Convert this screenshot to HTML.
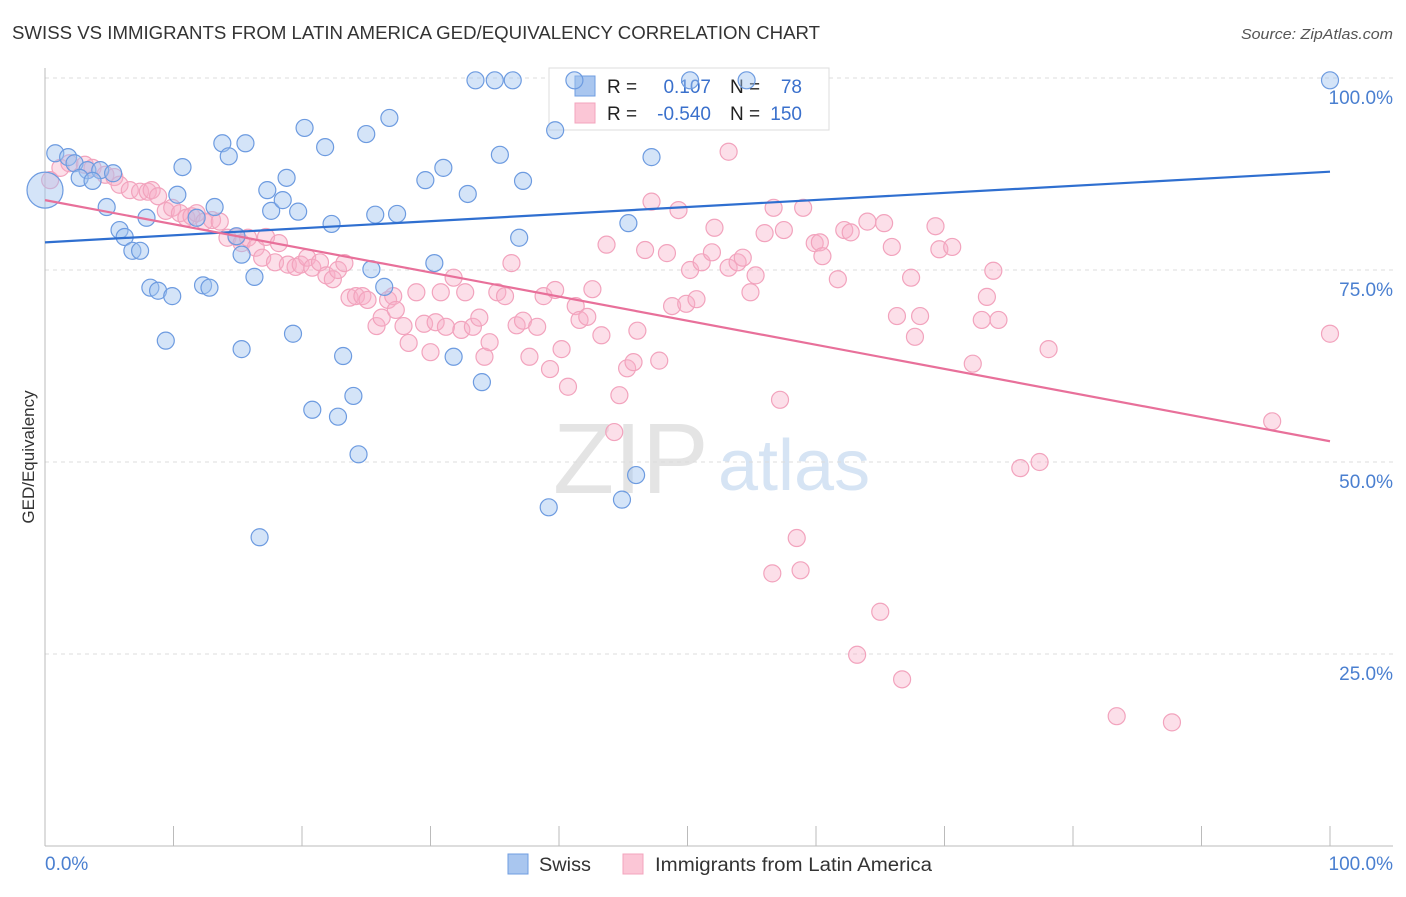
<!DOCTYPE html>
<html><head><meta charset="utf-8"><style>
body{margin:0;background:#fff;font-family:"Liberation Sans",sans-serif}
svg text{font-family:"Liberation Sans",sans-serif}
</style></head><body>
<svg id="chart" width="1406" height="892">
<text x="12" y="39" font-size="18" fill="#333" textLength="808" lengthAdjust="spacingAndGlyphs">SWISS VS IMMIGRANTS FROM LATIN AMERICA GED/EQUIVALENCY CORRELATION CHART</text>
<text x="1393" y="39" font-size="15" fill="#555" font-style="italic" text-anchor="end" textLength="152" lengthAdjust="spacingAndGlyphs">Source: ZipAtlas.com</text>
<text transform="translate(34,457) rotate(-90)" font-size="17" fill="#333" text-anchor="middle">GED/Equivalency</text>
<g>
<text x="553" y="493" font-size="100" fill="#e4e4e4" font-family="Liberation Serif,serif">ZIP</text>
<text x="718" y="490" font-size="72" fill="#d6e4f4">atlas</text>
</g>
<g id="grid"></g><g id="axes"></g>
<g>
<rect x="549" y="68" width="280" height="62" fill="#fff" stroke="#ddd"/>
<rect x="575" y="76" width="20" height="20" fill="#a9c6ef" stroke="#6f9de0"/>
<rect x="575" y="103" width="20" height="20" fill="#fbc6d6" stroke="#f3a4bd"/>
<text x="607" y="93" font-size="19" fill="#222">R =</text><text x="711" y="93" font-size="19" fill="#3a70cc" text-anchor="end">0.107</text>
<text x="730" y="93" font-size="19" fill="#222">N =</text><text x="802" y="93" font-size="19" fill="#3a70cc" text-anchor="end">78</text>
<text x="607" y="120" font-size="19" fill="#222">R =</text><text x="711" y="120" font-size="19" fill="#3a70cc" text-anchor="end">-0.540</text>
<text x="730" y="120" font-size="19" fill="#222">N =</text><text x="802" y="120" font-size="19" fill="#3a70cc" text-anchor="end">150</text>
</g>
<g id="marks"></g><g id="lines"></g>
<g>
<rect x="508" y="854" width="20" height="20" fill="#a9c6ef" stroke="#6f9de0"/>
<text x="539" y="871" font-size="19" fill="#333" textLength="52" lengthAdjust="spacingAndGlyphs">Swiss</text>
<rect x="623" y="854" width="20" height="20" fill="#fbc6d6" stroke="#f3a4bd"/>
<text x="655" y="871" font-size="19" fill="#333" textLength="277" lengthAdjust="spacingAndGlyphs">Immigrants from Latin America</text>
</g>
</svg>
<script>
const yTicks=[25,50,75,100];
const yTickLabels=["25.0%","50.0%","75.0%","100.0%"];
const xTickCount=10;
const swissX=[0.8,1.8,2.3,3.3,4.3,5.3,2.7,3.7,4.8,5.8,6.2,6.8,7.4,7.9,8.2,8.8,9.9,9.4,10.3,10.7,11.8,12.3,12.8,13.2,13.8,14.3,15.3,14.9,15.3,15.6,16.3,16.7,17.3,17.6,18.5,18.8,19.3,19.7,20.2,20.8,21.8,22.3,22.8,23.2,24.0,24.4,25.0,25.7,25.4,26.4,26.8,27.4,30.3,29.6,31.0,31.8,32.9,33.5,34.0,35.0,35.4,36.4,36.9,37.2,39.2,39.7,41.2,44.9,45.4,46.0,47.2,50.2,54.6,100,0];
const swissY=[90.2,89.7,88.9,88.0,88.0,87.6,87.0,86.6,83.2,80.2,79.3,77.5,77.5,81.8,72.7,72.3,71.6,65.8,84.8,88.4,81.8,73.0,72.7,83.2,91.5,89.8,77.0,79.4,64.7,91.5,74.1,40.2,85.4,82.7,84.1,87.0,66.7,82.6,93.5,56.8,91.0,81.0,55.9,63.8,58.6,51.0,92.7,82.2,75.1,72.8,94.8,82.3,75.9,86.7,88.3,63.7,84.9,99.7,60.4,99.7,90.0,99.7,79.2,86.6,44.1,93.2,99.7,45.1,81.1,48.3,89.7,99.7,99.7,99.7,85.4];
const latinX=[0.4,1.2,1.9,3.1,3.7,4.7,5.4,5.8,6.6,7.4,8.0,8.3,8.8,9.4,9.9,10.5,11.0,11.4,11.8,12.4,13.0,13.6,14.2,14.9,15.3,15.8,16.4,16.9,17.2,17.9,18.2,18.9,19.5,19.9,20.4,20.8,21.4,21.9,22.4,22.8,23.3,23.7,24.2,24.7,25.1,25.8,26.2,26.7,27.1,27.3,27.9,28.3,28.9,29.5,30.0,30.4,30.8,31.2,31.8,32.4,32.7,33.3,33.8,34.2,34.6,35.2,35.8,36.3,36.7,37.2,37.7,38.3,38.8,39.3,39.7,40.2,40.7,41.3,41.6,42.2,42.6,43.3,43.7,44.3,44.7,45.3,45.8,46.1,47.2,47.8,46.7,48.4,48.8,49.3,49.9,50.2,50.7,51.1,51.9,52.1,53.2,53.2,53.9,54.3,54.9,55.3,56.0,56.6,56.7,57.2,57.5,58.5,58.8,59.0,59.9,60.3,60.5,61.7,62.2,62.7,63.2,64.0,65.0,65.3,65.9,66.3,66.7,67.4,67.7,68.1,69.3,69.6,70.6,72.2,72.9,73.3,73.8,74.2,75.9,77.4,78.1,83.4,87.7,95.5,100];
const latinY=[86.7,88.3,88.9,88.7,88.3,87.4,87.1,86.1,85.4,85.2,85.2,85.4,84.6,82.7,83.1,82.4,81.8,82.0,82.4,81.3,81.5,81.3,79.2,79.3,78.5,79.2,77.9,76.6,79.3,76.0,78.5,75.7,75.4,75.7,76.6,75.3,76.0,74.3,73.8,75.0,75.9,71.4,71.6,71.6,71.1,67.7,68.8,71.1,71.6,69.8,67.7,65.5,72.1,68.0,64.3,68.2,72.1,67.6,74.0,67.2,72.1,67.6,68.8,63.7,65.6,72.1,71.6,75.9,67.8,68.4,63.7,67.6,71.6,62.1,72.4,64.7,59.8,70.3,68.5,68.9,72.5,66.5,78.3,53.9,58.7,62.2,63.0,67.1,83.9,63.2,77.6,77.2,70.3,82.8,70.6,75.0,71.2,76.0,77.3,80.5,90.4,75.3,76.0,76.6,72.1,74.3,79.8,35.5,83.1,58.1,80.2,40.1,35.9,83.1,78.5,78.6,76.8,73.8,80.2,79.9,24.9,81.3,30.5,81.1,78.0,69.0,21.7,74.0,66.3,69.0,80.7,77.7,78.0,62.8,68.5,71.5,74.9,68.5,49.2,50.0,64.7,16.9,16.1,55.3,66.7];
const swissTrend=[78.6,87.8];
const latinTrend=[84.1,52.7];

const NS="http://www.w3.org/2000/svg";
const X0=45,X1=1330,Y0=846,Y100=78;
const sx=v=>X0+(X1-X0)*v/100;
const sy=v=>Y0+(Y100-Y0)*v/100;
function mk(tag,attrs,parent){const e=document.createElementNS(NS,tag);for(const k in attrs)e.setAttribute(k,attrs[k]);document.getElementById(parent).appendChild(e);return e;}

yTicks.forEach((t,i)=>{
  const g=mk('line',{x1:X0,x2:1393,y1:sy(t),y2:sy(t),stroke:'#dcdcdc','stroke-dasharray':'4,4'},'grid');
  
  
  const l=mk('text',{x:1393,y:sy(t)+26,'font-size':19,fill:'#4a7fd0','text-anchor':'end'},'axes');
  l.textContent=yTickLabels[i];
  
  
});
const ya=mk('line',{x1:X0,x2:X0,y1:68,y2:Y0,stroke:'#bbb'},'axes');


const xa=mk('line',{x1:X0,x2:1393,y1:Y0,y2:Y0,stroke:'#bbb'},'axes');


for(let i=0;i<=xTickCount;i++){
  const t=mk('line',{x1:sx(i*10),x2:sx(i*10),y1:826,y2:Y0,stroke:'#bbb'},'axes');
  
  
}
const xl0=mk('text',{x:X0,y:870,'font-size':19,fill:'#4a7fd0'},'axes');xl0.textContent='0.0%';


const xl1=mk('text',{x:1393,y:870,'font-size':19,fill:'#4a7fd0','text-anchor':'end'},'axes');xl1.textContent='100.0%';



latinX.forEach((x,i)=>{
  const c=mk('circle',{cx:sx(x),cy:sy(latinY[i]),r:8.5,fill:'rgba(248,175,200,0.4)',stroke:'#f2a3bd','stroke-width':1.2},'marks');
  
  
});
swissX.forEach((x,i)=>{
  const r=(i===swissX.length-1)?18:8.5;
  const c=mk('circle',{cx:sx(x),cy:sy(swissY[i]),r:r,fill:'rgba(160,195,240,0.45)',stroke:'#6d9be0','stroke-width':1.2},'marks');
  
  
});
const bl=mk('line',{x1:sx(0),y1:sy(swissTrend[0]),x2:sx(100),y2:sy(swissTrend[1]),stroke:'#2f6fd0','stroke-width':2.2},'lines');


const pl=mk('line',{x1:sx(0),y1:sy(latinTrend[0]),x2:sx(100),y2:sy(latinTrend[1]),stroke:'#e8709a','stroke-width':2.2},'lines');


</script>
</body></html>
